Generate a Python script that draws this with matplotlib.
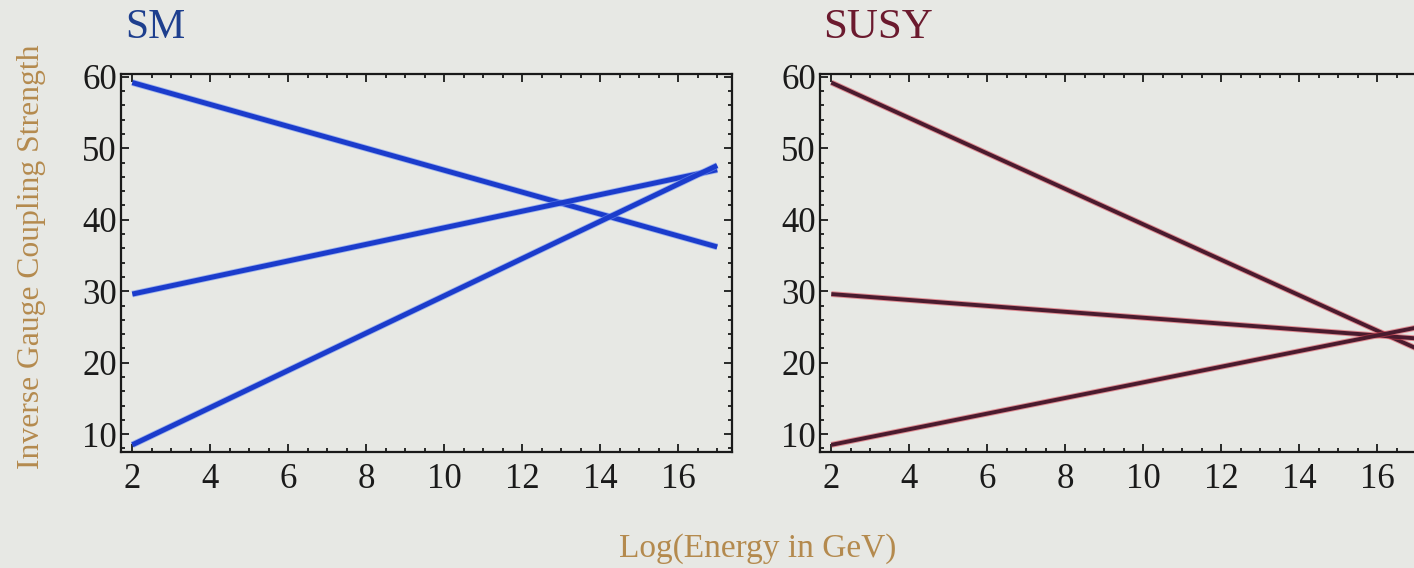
import matplotlib
matplotlib.use("Agg")
import matplotlib.pyplot as plt
from matplotlib.ticker import MultipleLocator

# Data
x_energy = [2, 17]
sm_a1 = [59.2, 36.2]
sm_a2 = [29.6, 47.0]
sm_a3 = [8.5, 47.6]
susy_a1 = [59.2, 22.0]
susy_a2 = [29.6, 23.4]
susy_a3 = [8.5, 24.9]
x_ticks = [2, 4, 6, 8, 10, 12, 14, 16]
y_ticks = [10, 20, 30, 40, 50, 60]
titles = ["SM", "SUSY"]
ylabel = "Inverse Gauge Coupling Strength"
xlabel = "Log(Energy in GeV)"

bg = "#e7e8e4"
plt.rcParams['font.family'] = ['Liberation Serif', 'DejaVu Serif']

fig = plt.figure(figsize=(14.14, 5.68), dpi=100, facecolor=bg)
W, H = 1414, 568

def make_ax(left_px, right_px):
    ax = fig.add_axes([left_px / W, 1 - 452 / H, (right_px - left_px) / W, (452 - 74) / H])
    ax.set_facecolor(bg)
    ax.set_xlim(1.71, 17.38)
    ax.set_ylim(7.5, 60.4)
    ax.set_xticks(x_ticks)
    ax.set_yticks(y_ticks)
    ax.xaxis.set_minor_locator(MultipleLocator(0.5))
    ax.yaxis.set_minor_locator(MultipleLocator(2))
    ax.tick_params(which='both', direction='in', top=True, right=True,
                   width=1.3, colors='#1a1a1a')
    ax.tick_params(which='major', length=6)
    ax.tick_params(which='minor', length=3)
    ax.tick_params(axis='x', which='major', labelsize=25, pad=8)
    ax.tick_params(axis='y', which='major', labelsize=25, pad=3)
    for s in ax.spines.values():
        s.set_linewidth(1.6)
        s.set_color('#1a1a1a')
    return ax

ax1 = make_ax(121, 732)
ax2 = make_ax(820, 1431)

sm_color = '#1b3ccc'
for ys in (sm_a1, sm_a2, sm_a3):
    ax1.plot(x_energy, ys, color='#6f8ff0', lw=4.8, solid_capstyle='butt', alpha=0.6)
    ax1.plot(x_energy, ys, color=sm_color, lw=3.6, solid_capstyle='butt')

for ys in (susy_a1, susy_a2, susy_a3):
    ax2.plot(x_energy, ys, color='#d8404f', lw=4.2, solid_capstyle='butt', alpha=0.55)
    ax2.plot(x_energy, ys, color='#4a1b2e', lw=2.8, solid_capstyle='butt')

fig.text(125 / W, 1 - 28 / H, titles[0], color='#1e3f8e', fontsize=30, va='center', ha='left')
fig.text(823 / W, 1 - 28 / H, titles[1], color='#6b1a2e', fontsize=31, va='center', ha='left')

fig.text(32 / W, 1 - 257 / H, ylabel, color='#b48a4e', fontsize=22.8, rotation=90,
         va='center', ha='center')
fig.text(758 / W, 1 - 549 / H, xlabel, color='#b48a4e', fontsize=24, va='center', ha='center')

fig.savefig("out.png", dpi=100, facecolor=bg)
